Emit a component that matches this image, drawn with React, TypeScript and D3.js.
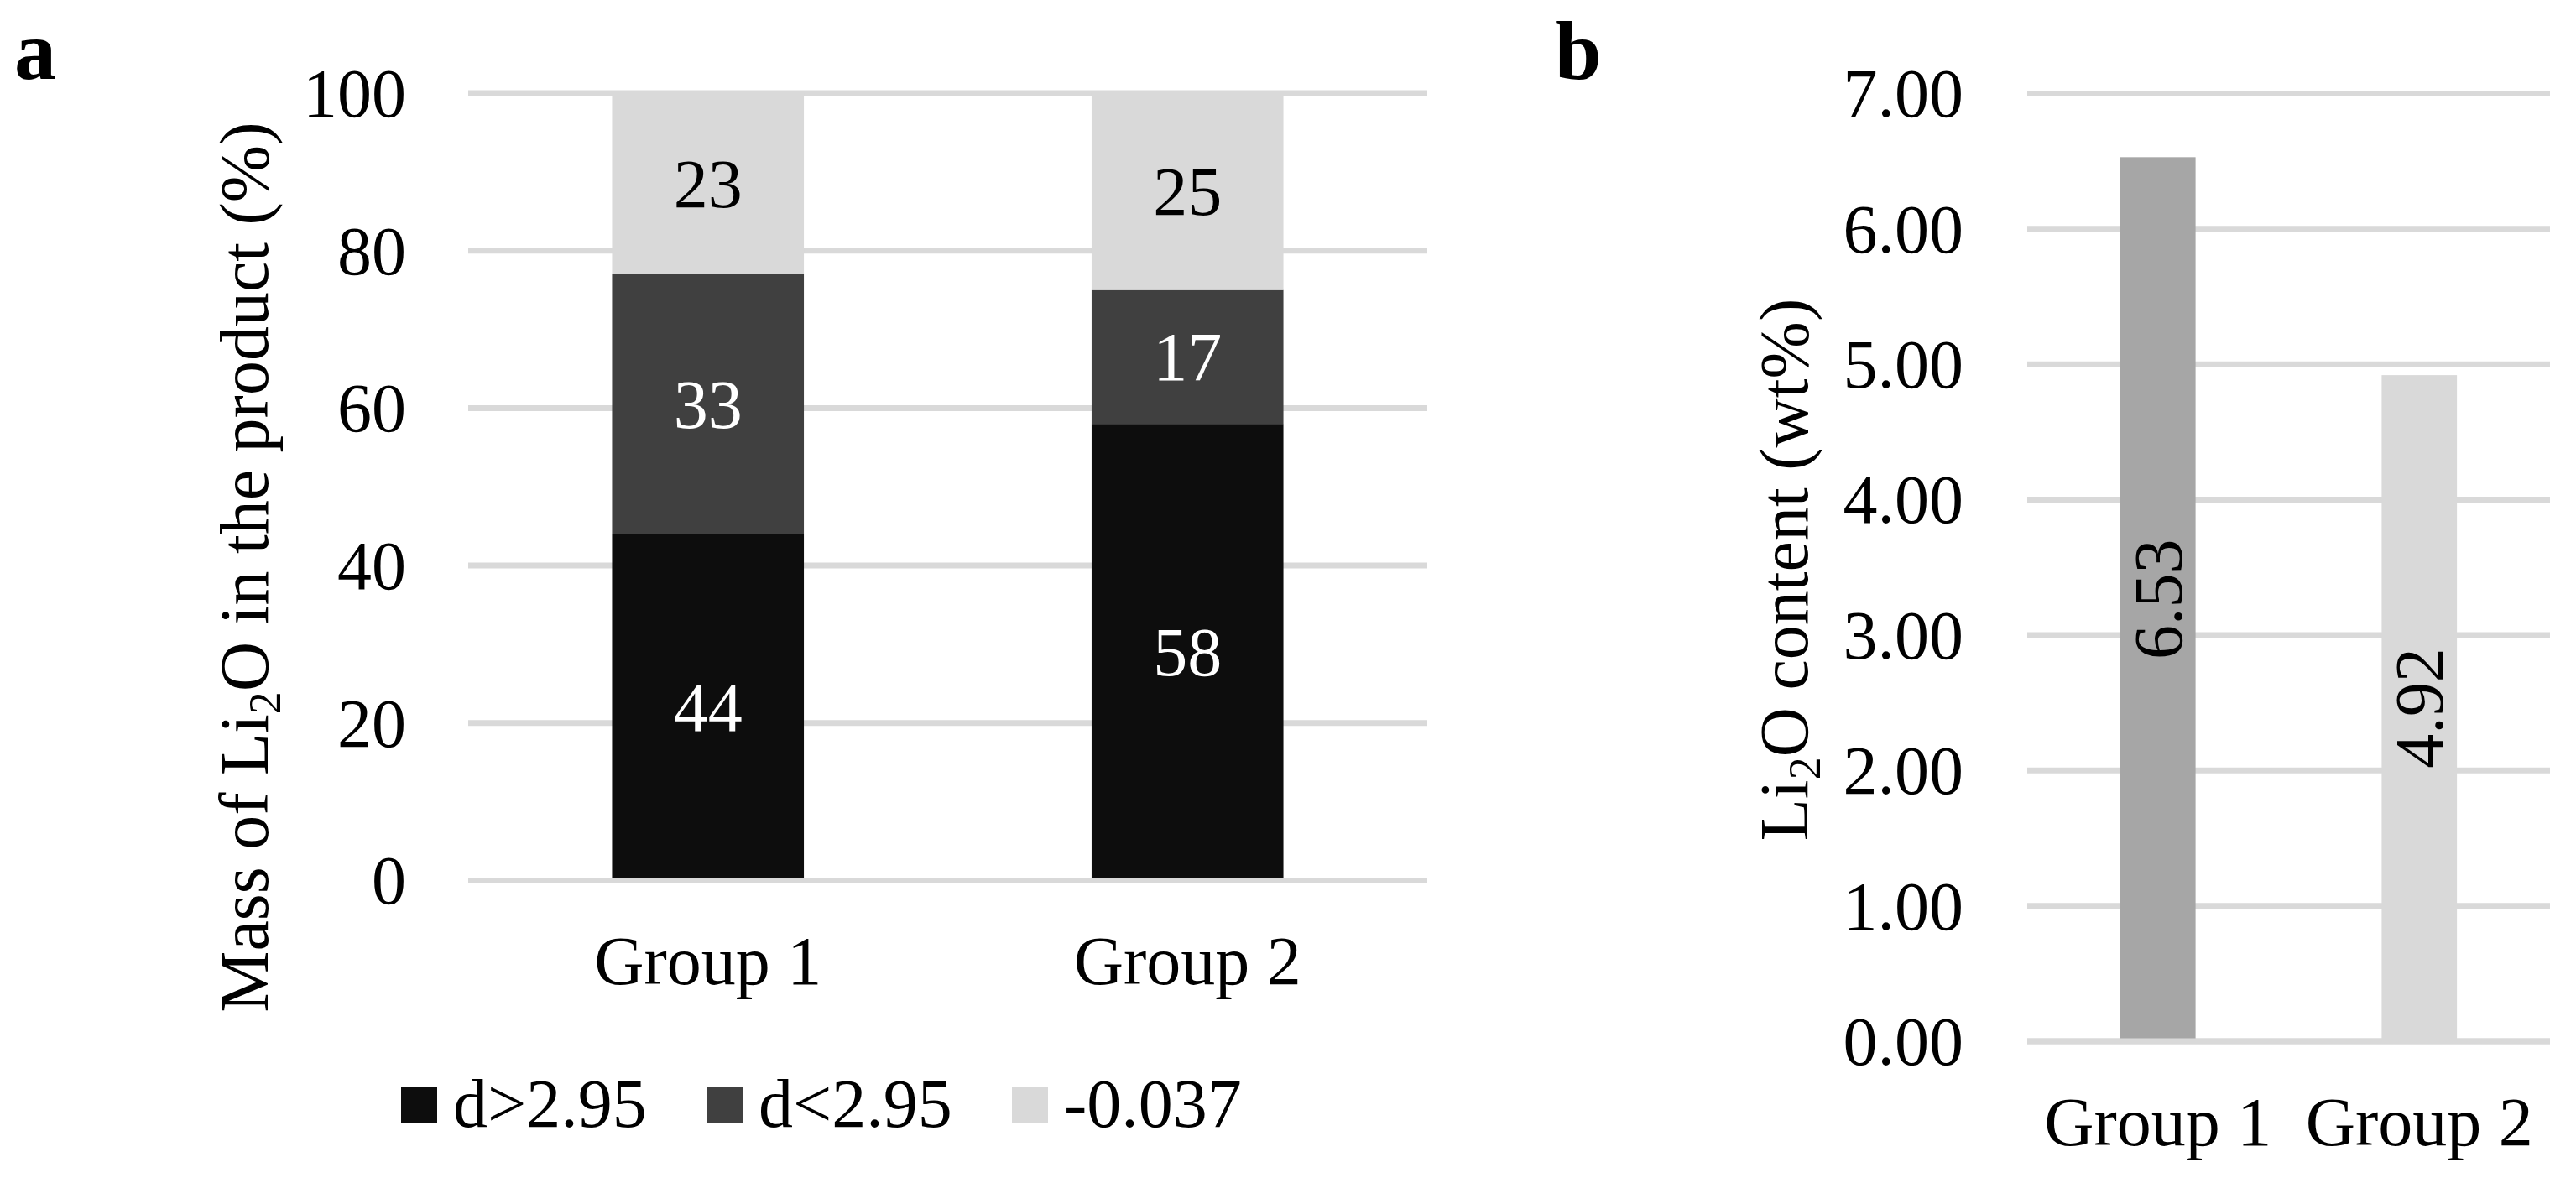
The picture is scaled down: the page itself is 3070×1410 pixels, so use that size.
import React from 'react'
import * as d3 from 'd3'

// data
const groups = ['Group 1', 'Group 2']
const seriesNames = ['d>2.95', 'd<2.95', '-0.037']
const coarseShare = [44, 58]
const fineShare = [33, 17]
const restShare = [23, 25]
const seriesColors = ['#0d0d0d', '#404040', '#d9d9d9']
const labelColors = ['#ffffff', '#ffffff', '#000000']
const ticksA = [0, 20, 40, 60, 80, 100]

const liContent = [6.53, 4.92]
const liColors = ['#a6a6a6', '#d9d9d9']
const ticksB = [0, 1, 2, 3, 4, 5, 6, 7]

const W = 3070
const H = 1410
const FONT = '"Liberation Serif", "Times New Roman", serif'
const FS = 82
const GRID = '#d9d9d9'
const GRID_W = 7

const Sub2 = () => (
    <>
        <tspan fontSize={FS * 0.66} dy={FS * 0.18}>
            2
        </tspan>
        <tspan dy={-FS * 0.18}>O</tspan>
    </>
)

export default function App() {
    // ---------- panel a ----------
    const xA = d3.scaleBand<string>().domain(groups).range([558, 1701]).paddingInner(0.6).paddingOuter(0.3)
    const yA = d3.scaleLinear().domain([0, 100]).range([1049.5, 111])

    const rows = groups.map((g, i) => ({
        group: g,
        [seriesNames[0]]: coarseShare[i],
        [seriesNames[1]]: fineShare[i],
        [seriesNames[2]]: restShare[i],
    }))
    const stacked = d3.stack<any>().keys(seriesNames)(rows)

    // ---------- panel b ----------
    const xB = d3.scaleBand<string>().domain(groups).range([2416, 3039]).paddingInner(0.712).paddingOuter(0.356)
    const yB = d3.scaleLinear().domain([0, 7]).range([1241, 111.5])
    const fmtB = d3.format('.2f')

    // legend layout
    const legendX0 = 478
    const legendStep = 364
    const legendSq = 43
    const legendBase = 1343

    return (
        <svg
            width={W}
            height={H}
            style={{ position: 'absolute', left: 0, top: 0, background: '#fff' }}
            fontFamily={FONT}
            fontSize={FS}
        >
            <rect width={W} height={H} fill="#fff" />

            {/* panel letters */}
            <text x={17} y={94} fontSize={100} fontWeight="bold">
                a
            </text>
            <text x={1853} y={94} fontSize={100} fontWeight="bold">
                b
            </text>

            {/* ===== panel a ===== */}
            <g>
                {ticksA.map((t) => (
                    <line key={t} x1={558} x2={1701} y1={yA(t)} y2={yA(t)} stroke={GRID} strokeWidth={GRID_W} />
                ))}
                {ticksA.map((t) => (
                    <text key={t} x={484} y={yA(t) + FS * 0.34} textAnchor="end">
                        {t}
                    </text>
                ))}
                {stacked.map((layer, si) => (
                    <g key={layer.key}>
                        {layer.map((d, gi) => (
                            <rect
                                key={gi}
                                x={xA(groups[gi])}
                                width={xA.bandwidth()}
                                y={yA(d[1])}
                                height={yA(d[0]) - yA(d[1])}
                                fill={seriesColors[si]}
                            />
                        ))}
                        {layer.map((d, gi) => (
                            <text
                                key={'l' + gi}
                                x={(xA(groups[gi]) as number) + xA.bandwidth() / 2}
                                y={(yA(d[0]) + yA(d[1])) / 2 + FS * 0.34}
                                textAnchor="middle"
                                fill={labelColors[si]}
                            >
                                {d[1] - d[0]}
                            </text>
                        ))}
                    </g>
                ))}
                <line x1={558} x2={1701} y1={yA(0)} y2={yA(0)} stroke={GRID} strokeWidth={GRID_W} />
                {groups.map((g) => (
                    <text key={g} x={(xA(g) as number) + xA.bandwidth() / 2} y={1173} textAnchor="middle">
                        {g}
                    </text>
                ))}
                <text transform={`translate(319,676) rotate(-90)`} textAnchor="middle">
                    Mass of Li
                    <Sub2 /> in the product (%)
                </text>
                {seriesNames.map((s, i) => (
                    <g key={s} transform={`translate(${legendX0 + i * legendStep},0)`}>
                        <rect x={0} y={1295} width={legendSq} height={legendSq} fill={seriesColors[i]} />
                        <text x={62} y={legendBase}>
                            {s}
                        </text>
                    </g>
                ))}
            </g>

            {/* ===== panel b ===== */}
            <g>
                {ticksB.map((t) => (
                    <line key={t} x1={2416} x2={3039} y1={yB(t)} y2={yB(t)} stroke={GRID} strokeWidth={GRID_W} />
                ))}
                {ticksB.map((t) => (
                    <text key={t} x={2340} y={yB(t) + FS * 0.34} textAnchor="end">
                        {fmtB(t)}
                    </text>
                ))}
                {liContent.map((v, i) => (
                    <rect
                        key={i}
                        x={xB(groups[i])}
                        width={xB.bandwidth()}
                        y={yB(v)}
                        height={yB(0) - yB(v)}
                        fill={liColors[i]}
                    />
                ))}
                <line x1={2416} x2={3039} y1={yB(0)} y2={yB(0)} stroke={GRID} strokeWidth={GRID_W} />
                {liContent.map((v, i) => {
                    const cx = (xB(groups[i]) as number) + xB.bandwidth() / 2
                    const cy = (yB(v) + yB(0)) / 2
                    return (
                        <text
                            key={i}
                            transform={`translate(${cx + FS * 0.34},${cy}) rotate(-90)`}
                            textAnchor="middle"
                        >
                            {fmtB(v)}
                        </text>
                    )
                })}
                {groups.map((g) => (
                    <text key={g} x={(xB(g) as number) + xB.bandwidth() / 2} y={1365} textAnchor="middle">
                        {g}
                    </text>
                ))}
                <text transform={`translate(2154,679) rotate(-90)`} textAnchor="middle">
                    Li
                    <Sub2 /> content (wt%)
                </text>
            </g>
        </svg>
    )
}
